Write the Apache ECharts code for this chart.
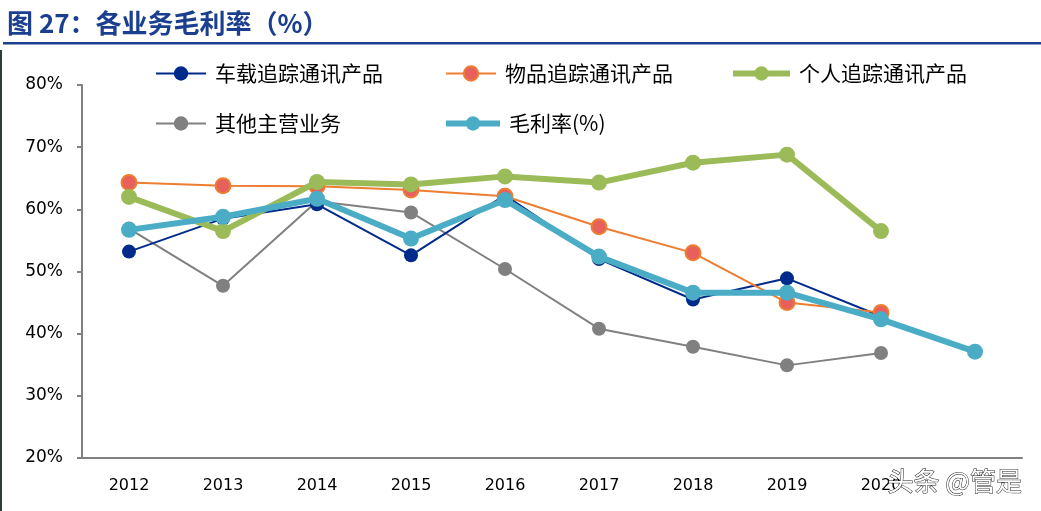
<!DOCTYPE html>
<html><head><meta charset="utf-8">
<script src="https://cdn.jsdelivr.net/npm/echarts@6/dist/echarts.min.js"></script>
<style>html,body{margin:0;padding:0;background:#fff}#c{width:1041px;height:511px}</style>
</head><body><div id="c"></div>
<script>
var categories = ['2012','2013','2014','2015','2016','2017','2018','2019','2020','2021'];
var axisLabels = ['2012','2013','2014','2015','2016','2017','2018','2019','2020',''];
var vehicle  = [53.2, 58.5, 60.8, 52.6, 62.3, 52.0, 45.5, 48.9, 42.8, null];
var goods    = [64.3, 63.8, 63.7, 63.1, 62.1, 57.2, 53.0, 45.0, 43.4, null];
var personal = [62.0, 56.5, 64.4, 64.0, 65.3, 64.3, 67.5, 68.8, 56.5, null];
var other    = [56.9, 47.7, 61.3, 59.5, 50.4, 40.8, 37.9, 34.9, 36.9, null];
var margin   = [56.7, 58.8, 61.7, 55.3, 61.5, 52.4, 46.6, 46.6, 42.3, 37.1];
var yTicks = [20, 80, 10];

var chart = echarts.init(document.getElementById('c'));
var cjk = '"Noto Sans CJK SC", sans-serif';
function lg(name, left, top, w, lw) {
  return {data:[name], left:left, top:top, itemWidth:w, itemHeight:18,
    lineStyle:{width:lw},
    textStyle:{fontFamily:cjk, fontSize:21, color:'#000', padding:[0,0,0,4]}, selectedMode:false};
}
chart.setOption({
  animation:false,
  backgroundColor:'#fff',
  graphic:[
    {type:'text', left:7, top:10, style:{text:'图 27：各业务毛利率（%）', font:'bold 26px "Noto Sans CJK SC"', fill:'#1B3F8F'}},
    {type:'rect', shape:{x:3, y:42, width:1038, height:2.5}, style:{fill:'#1B3F8F'}},
    {type:'rect', shape:{x:0, y:50, width:2, height:461}, style:{fill:'#2c3d38'}},
    {type:'text', left:887, top:468, z:100, style:{text:'头条 @管是', font:'26px "Noto Sans CJK SC"', fill:'#fff', stroke:'#222', lineWidth:1}}
  ],
  legend:[
    lg('车载追踪通讯产品', 150, 58, 50, 2),
    lg('物品追踪通讯产品', 440, 58, 50, 2),
    lg('个人追踪通讯产品', 725, 58, 57, 6),
    lg('其他主营业务', 150, 108, 50, 2),
    lg('毛利率(%)', 438, 108, 54, 6)
  ],
  grid:{left:82, right:19, top:85, bottom:53},
  xAxis:{type:'category', data:categories, boundaryGap:true,
    axisLine:{lineStyle:{color:'#808080', width:2}},
    axisTick:{inside:true, length:7, lineStyle:{color:'#808080', width:2}},
    axisLabel:{formatter:function(v,i){return axisLabels[i];}, fontFamily:'"DejaVu Sans"', fontSize:16, color:'#000', margin:20}},
  yAxis:{type:'value', min:yTicks[0], max:yTicks[1], interval:yTicks[2],
    splitLine:{show:false},
    axisLine:{show:true, lineStyle:{color:'#808080', width:2}},
    axisTick:{show:true, length:5, lineStyle:{color:'#808080', width:2}},
    axisLabel:{formatter:'{value}%', fontFamily:'"DejaVu Sans"', fontSize:17, color:'#000', margin:19}},
  series:[
    {name:'其他主营业务', type:'line', data:other, symbol:'circle', symbolSize:14,
      lineStyle:{color:'#808080', width:2}, itemStyle:{color:'#808080'}, z:1},
    {name:'车载追踪通讯产品', type:'line', data:vehicle, symbol:'circle', symbolSize:14,
      lineStyle:{color:'#002B8A', width:2}, itemStyle:{color:'#002B8A'}, z:2},
    {name:'物品追踪通讯产品', type:'line', data:goods, symbol:'circle', symbolSize:15,
      lineStyle:{color:'#ED7D31', width:2}, itemStyle:{color:'#E8605C', borderColor:'#ED7D31', borderWidth:2}, z:3},
    {name:'个人追踪通讯产品', type:'line', data:personal, symbol:'circle', symbolSize:16,
      lineStyle:{color:'#9BBB59', width:6}, itemStyle:{color:'#9BBB59'}, z:4},
    {name:'毛利率(%)', type:'line', data:margin, symbol:'circle', symbolSize:16,
      lineStyle:{color:'#4BACC6', width:6}, itemStyle:{color:'#4BACC6'}, z:5}
  ]
});
</script></body></html>
